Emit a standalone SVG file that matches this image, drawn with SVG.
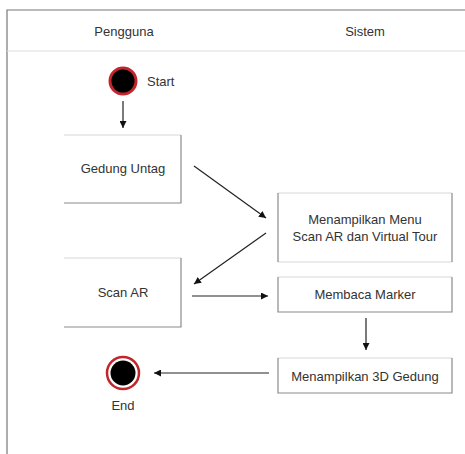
<svg xmlns="http://www.w3.org/2000/svg" width="465" height="454" viewBox="0 0 465 454">
<style>
text{font-family:"Liberation Sans",Arial,sans-serif;font-size:13px;fill:#333;text-anchor:middle}
.box{fill:#fff;stroke:none}
.lt{fill:none;stroke:#d6d6d6;stroke-width:1}
.sh{fill:none;stroke:#8a8a8a;stroke-width:1.2}
.c{stroke:#222;stroke-width:1.2;fill:none;marker-end:url(#ah)}
</style>
<defs>
<marker id="ah" viewBox="0 0 10 10" refX="10" refY="5" markerWidth="7" markerHeight="7" markerUnits="userSpaceOnUse" orient="auto">
<path d="M0,0L10,5L0,10z" fill="#111"/>
</marker>
</defs>
<rect width="465" height="454" fill="#fff"/>
<g id="frame">
<path d="M7,454V10H465" fill="none" stroke="#777" stroke-width="1.2"/>
<line x1="7" y1="51" x2="465" y2="51" stroke="#ddd" stroke-width="1"/>
<text x="124" y="36">Pengguna</text>
<text x="365" y="36">Sistem</text>
</g>
<g id="connectors">
<line class="c" x1="123" y1="101" x2="123" y2="128"/>
<line class="c" x1="194" y1="166" x2="266" y2="218"/>
<line class="c" x1="266" y1="233" x2="194" y2="284"/>
<line class="c" x1="192" y1="296" x2="268" y2="296"/>
<line class="c" x1="366" y1="318" x2="366" y2="350"/>
<line class="c" x1="269" y1="373" x2="154" y2="373"/>
</g>
<g id="start">
<circle cx="123" cy="81" r="13" fill="#000" stroke="#c0262b" stroke-width="3"/>
<text x="147" y="86" style="text-anchor:start">Start</text>
</g>
<g id="gedung-untag">
<rect class="box" x="64" y="135" width="117" height="68"/>
<path class="lt" d="M64,135H181"/>
<path class="sh" d="M181,135V203H64"/>
<text x="123" y="173">Gedung Untag</text>
</g>
<g id="menu">
<rect class="box" x="278" y="193" width="174" height="69"/>
<path class="lt" d="M278,193H452M278,262H452"/>
<path class="sh" d="M278,193V262M452,193V262"/>
<text x="365" y="224">Menampilkan Menu</text>
<text x="365" y="241">Scan AR dan Virtual Tour</text>
</g>
<g id="scan-ar">
<rect class="box" x="64" y="258" width="117" height="69"/>
<path class="lt" d="M64,258H181"/>
<path class="sh" d="M181,258V327H64"/>
<text x="123" y="297">Scan AR</text>
</g>
<g id="membaca-marker">
<rect class="box" x="278" y="277" width="174" height="35"/>
<path class="lt" d="M278,277H452"/>
<path class="sh" d="M278,277V312H452V277"/>
<text x="365" y="299">Membaca Marker</text>
</g>
<g id="tampil-3d">
<rect class="box" x="278" y="358" width="174" height="35"/>
<path class="lt" d="M278,358H452"/>
<path class="sh" d="M278,358V393H452V358"/>
<text x="365" y="381">Menampilkan 3D Gedung</text>
</g>
<g id="end">
<circle cx="123" cy="373" r="16" fill="#fff" stroke="#c0262b" stroke-width="2.5"/>
<circle cx="123" cy="373" r="12.5" fill="#000"/>
<text x="123" y="410">End</text>
</g>
</svg>
